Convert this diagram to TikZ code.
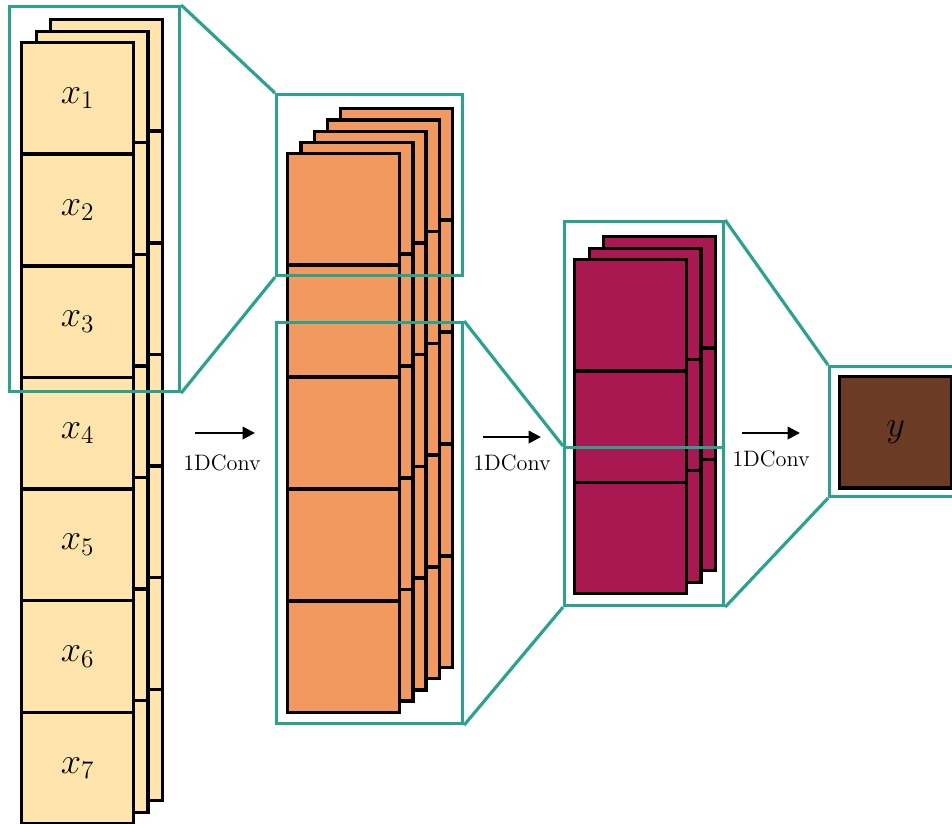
\documentclass[tikz,border=0pt]{standalone}
\usepackage{amsmath,amssymb}
\usepackage{tikz}
\usetikzlibrary{arrows.meta}

\definecolor{inputcol}{RGB}{255,229,171}
\definecolor{hidcol}{RGB}{242,153,95}
\definecolor{deepcol}{RGB}{170,24,82}
\definecolor{outcol}{RGB}{108,59,36}
\definecolor{framecol}{RGB}{42,163,142}

\begin{document}
\begin{tikzpicture}[
  x=0.02cm, y=-0.02cm,
  cell/.style={draw=black, line width=1.9pt, minimum width=2.24cm, minimum height=2.23cm,
    inner sep=0pt, anchor=north west, font=\huge},
  incell/.style={cell, fill=inputcol},
  hidcell/.style={cell, fill=hidcol},
  deepcell/.style={cell, fill=deepcol},
  outcell/.style={cell, fill=outcol},
  frame/.style={draw=framecol, line width=1.8pt, inner sep=0pt, anchor=north west},
  proj/.style={draw=framecol, line width=1.8pt},
  convarrow/.style={-{Triangle[length=7pt,width=7pt]}, line width=1.4pt},
  convlabel/.style={font=\fontsize{12.7}{15}\selectfont}
]
  \useasboundingbox (0,0) rectangle (952,823);
  \clip (0,0) rectangle (952,823);

  % Input sequence (back layers first)
  \foreach \l in {2,1} {
    \foreach \k in {1,...,7} {
      \node[incell] (in-\l-\k) at ({20+14.5*\l},{41-11.5*\l+111.6*(\k-1)}) {};
    }
  }
  \foreach \k in {1,...,7} {
    \node[incell] (in-\k) at (20,{41+111.6*(\k-1)}) {$x_{\k}$};
  }

  % First hidden layer
  \foreach \l in {4,3,2,1,0} {
    \foreach \k in {1,...,5} {
      \node[hidcell] (hid-\l-\k) at ({286+13.25*\l},{152-11.25*\l+111.8*(\k-1)}) {};
    }
  }

  % Second hidden layer
  \foreach \l in {2,1,0} {
    \foreach \k in {1,...,3} {
      \node[deepcell] (deep-\l-\k) at ({573+14.5*\l},{258-11.5*\l+111.3*(\k-1)}) {};
    }
  }

  % Output
  \node[outcell] (out) at (838,375) {$y$};

  % Receptive field frames
  \node[frame, minimum width=3.4cm, minimum height=7.7cm] (f-in) at (8,5) {};
  \node[frame, minimum width=3.72cm, minimum height=3.62cm] (f-hidtop) at (275,93) {};
  \node[frame, minimum width=3.72cm, minimum height=8.02cm] (f-hidbot) at (275,321) {};
  \node[frame, minimum width=3.18cm, minimum height=7.68cm] (f-deep) at (563,220) {};
  \node[frame, minimum width=3.18cm, minimum height=3.16cm] (f-deepbot) at (563,446) {};
  \node[frame, minimum width=4cm, minimum height=2.6cm] (f-out) at (828,365) {};

  % Projections
  \draw[proj] (f-in.north east) -- (f-hidtop.north west);
  \draw[proj] (f-in.south east) -- (f-hidtop.south west);
  \draw[proj] (f-hidbot.north east) -- (f-deepbot.north west);
  \draw[proj] (f-hidbot.south east) -- (f-deepbot.south west);
  \draw[proj] (f-deep.north east) -- (f-out.north west);
  \draw[proj] (f-deep.south east) -- (f-out.south west);

  % Convolution arrows
  \coordinate (a1s) at (195,433);
  \coordinate (a1e) at (255,433);
  \draw[convarrow] (a1s) -- (a1e);
  \node[convlabel] (conv1) at (222,463) {1DConv};
  \coordinate (a2s) at (483,437);
  \coordinate (a2e) at (541,437);
  \draw[convarrow] (a2s) -- (a2e);
  \node[convlabel] (conv2) at (512,463) {1DConv};
  \coordinate (a3s) at (742,433);
  \coordinate (a3e) at (800,433);
  \draw[convarrow] (a3s) -- (a3e);
  \node[convlabel] (conv3) at (771,459) {1DConv};

\end{tikzpicture}
\end{document}
